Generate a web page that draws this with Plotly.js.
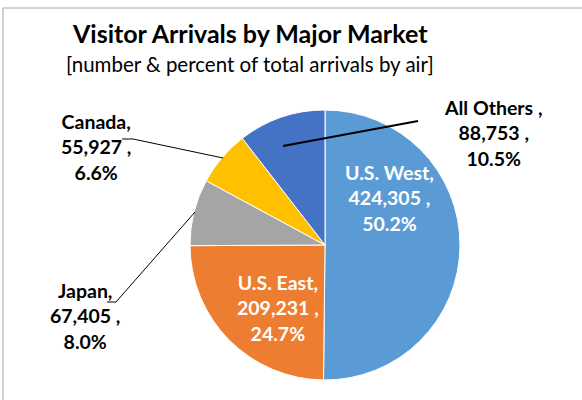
<!DOCTYPE html>
<html>
<head>
<meta charset="utf-8">
<script src="https://cdn.plot.ly/plotly-3.0.1.min.js"></script>
<style>html,body{margin:0;padding:0;background:#fff;}#chart{width:582px;height:400px;}</style>
</head>
<body>
<div id="chart"></div>
<script>
// Data
var markets = ["U.S. West", "U.S. East", "Japan", "Canada", "All Others"];
var arrivals = [424305, 209231, 67405, 55927, 88753];
var percents = ["50.2%", "24.7%", "8.0%", "6.6%", "10.5%"];
var sliceColors = ["#5B9BD5", "#ED7D31", "#A5A5A5", "#FFC000", "#4472C4"];

var W = 582, H = 400;
function px(x) { return x / W; }
function py(y) { return 1 - y / H; }

function labelText(i) {
  var name = markets[i];
  var sep = (name === "All Others") ? " ," : ",";
  return name + sep + "<br>" + arrivals[i].toLocaleString("en-US") + " ,<br>" + percents[i];
}

// Label placement (layout only)
var labelPos = [
  {x: 390, y: 198, color: "#FFFFFF"},
  {x: 278, y: 308, color: "#FFFFFF"},
  {x: 85, y: 316, color: "#000000"},
  {x: 96, y: 147, color: "#000000"},
  {x: 493, y: 133, color: "#000000"}
];

var annotations = labelPos.map(function (p, i) {
  return {
    xref: "paper", yref: "paper",
    x: px(p.x), y: py(p.y),
    xanchor: "center", yanchor: "middle",
    text: "<b>" + labelText(i) + "</b>",
    showarrow: false,
    align: "center",
    font: {family: "Lato, 'Open Sans', sans-serif", size: 19.5, color: p.color}
  };
});

annotations.push({
  xref: "paper", yref: "paper", x: px(250), y: py(33),
  xanchor: "center", yanchor: "middle",
  text: "<b>Visitor Arrivals by Major Market</b>", showarrow: false,
  font: {family: "Lato, sans-serif", size: 25, color: "#000"}
});
annotations.push({
  xref: "paper", yref: "paper", x: px(250), y: py(64),
  xanchor: "center", yanchor: "middle",
  text: "[number &amp; percent of total arrivals by air]", showarrow: false,
  font: {family: "Lato, sans-serif", size: 20.5, color: "#000"}
});

function path(pts) {
  return pts.map(function (p, k) {
    return (k ? "L" : "M") + px(p[0]) + "," + py(p[1]);
  }).join(" ");
}

var shapes = [
  {type: "rect", xref: "paper", yref: "paper", x0: px(3), y0: py(8), x1: 1.2, y1: -0.2,
   line: {color: "#A6A6A6", width: 1}, fillcolor: "rgba(0,0,0,0)"},
  {type: "path", xref: "paper", yref: "paper", path: path([[122,139],[133,139],[223,158]]),
   line: {color: "#000", width: 1}},
  {type: "path", xref: "paper", yref: "paper", path: path([[107,302],[116,302],[195,212]]),
   line: {color: "#000", width: 1}},
  {type: "path", xref: "paper", yref: "paper", path: path([[283,146],[418,121]]),
   line: {color: "#000", width: 2}}
];

var trace = {
  type: "pie",
  labels: markets,
  values: arrivals,
  sort: false,
  direction: "clockwise",
  rotation: 0,
  textinfo: "none",
  hoverinfo: "label+value+percent",
  marker: {colors: sliceColors, line: {color: "#FFFFFF", width: 1}},
  domain: {x: [px(190), px(460)], y: [py(380), py(110)]},
  showlegend: false
};

var layout = {
  width: W, height: H,
  margin: {l: 0, r: 0, t: 0, b: 0},
  paper_bgcolor: "#FFFFFF",
  showlegend: false,
  annotations: annotations,
  shapes: shapes
};

Plotly.newPlot("chart", [trace], layout, {displayModeBar: false, staticPlot: true});
</script>
</body>
</html>
